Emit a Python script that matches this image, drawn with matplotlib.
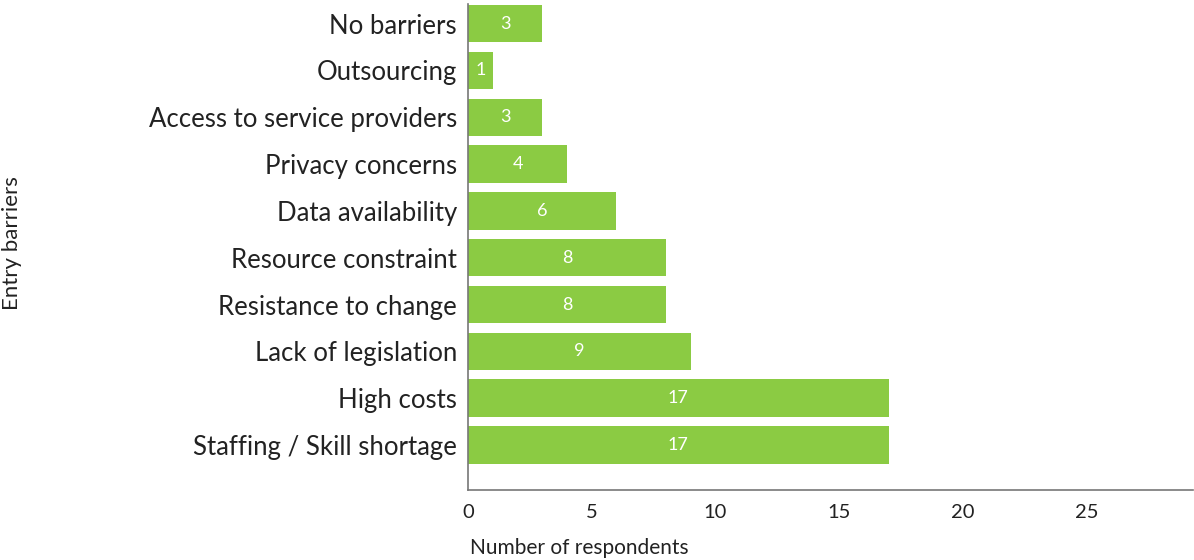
import matplotlib
matplotlib.use("Agg")
import matplotlib.pyplot as plt

# survey results, top to bottom as shown
barriers = [
    "No barriers",
    "Outsourcing",
    "Access to service providers",
    "Privacy concerns",
    "Data availability",
    "Resource constraint",
    "Resistance to change",
    "Lack of legislation",
    "High costs",
    "Staffing / Skill shortage",
]
respondents = [3, 1, 3, 4, 6, 8, 8, 9, 17, 17]
x_ticks = [0, 5, 10, 15, 20, 25]

GREEN = "#8BCB43"
TEXT = "#222222"

plt.rcParams["font.family"] = ["Lato", "DejaVu Sans"]

fig = plt.figure(figsize=(11.94, 5.6), dpi=100)
ax = fig.add_axes([0.392, 0.125, 0.607, 0.868])

# first category at top
ypos = list(range(len(barriers) - 1, -1, -1))
bars = ax.barh(ypos, respondents, height=0.8, color=GREEN)

for b, v in zip(bars, respondents):
    ax.text(b.get_width() / 2, b.get_y() + b.get_height() / 2, str(v),
            ha="center", va="center", color="white", fontsize=13)

ax.set_yticks(ypos)
ax.set_yticklabels(barriers, fontsize=18.5, color=TEXT)
ax.set_xticks(x_ticks)
ax.set_xticklabels([str(t) for t in x_ticks], fontsize=14.5, color=TEXT)
ax.tick_params(axis="both", length=0)
ax.tick_params(axis="y", pad=8)
ax.tick_params(axis="x", pad=10)

ax.set_xlim(0, 29.3)
ax.set_ylim(-0.96, 9.42)

for s in ["top", "right"]:
    ax.spines[s].set_visible(False)
for s in ["left", "bottom"]:
    ax.spines[s].set_color("#777777")
    ax.spines[s].set_linewidth(1.2)

fig.text(470 / 1194, 1 - 548 / 560, "Number of respondents", ha="left", va="center",
         fontsize=15, color=TEXT)
fig.text(12 / 1194, 1 - 243 / 560, "Entry barriers", ha="center", va="center",
         rotation=90, fontsize=16, color=TEXT)

fig.savefig("out.png", dpi=100)
